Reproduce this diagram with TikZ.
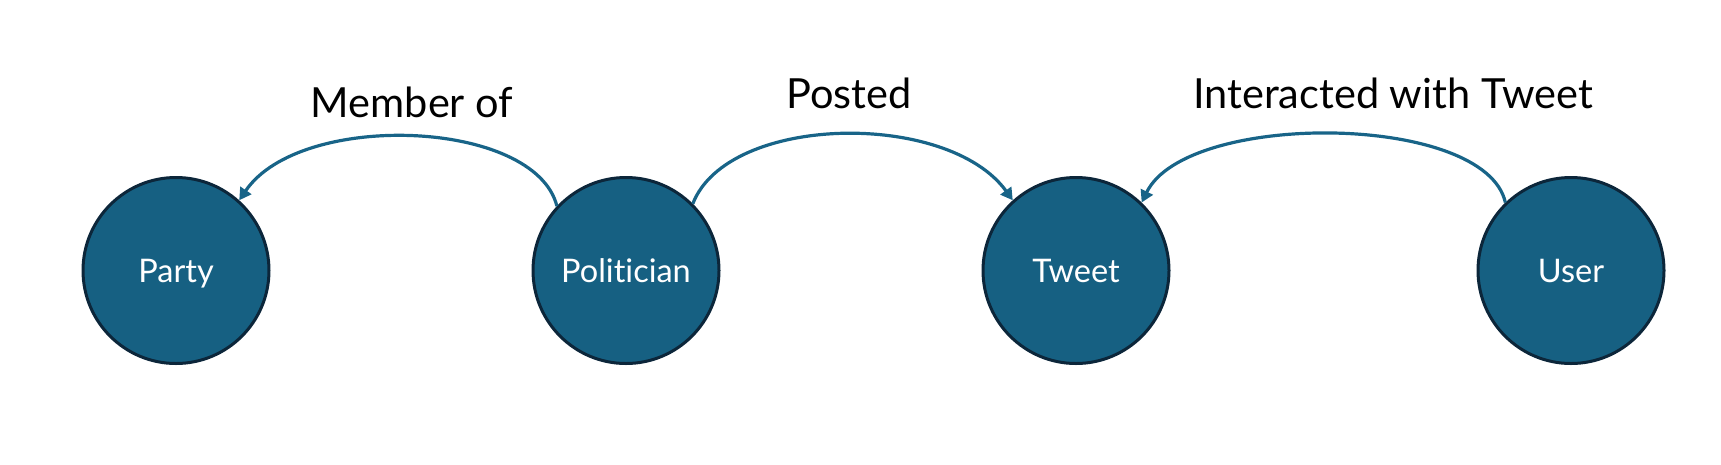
\documentclass[tikz,border=0pt]{standalone}
\usepackage{fontspec}
\setmainfont[Ligatures=NoCommon]{Lato}
\usetikzlibrary{arrows.meta}
\definecolor{nodefill}{RGB}{22,96,130}
\definecolor{nodeline}{RGB}{12,38,58}
\definecolor{edgecol}{RGB}{24,100,136}
\tikzset{
  entity/.style={circle, fill=nodefill, draw=nodeline, line width=3pt,
    minimum size=186pt, inner sep=0pt, text=white,
    font=\fontsize{32.5}{36}\selectfont, text height=23pt, text depth=0pt},
  rel/.style={draw=edgecol, line width=3.2pt,
    -{Triangle[length=12pt,width=13pt]}},
  rellabel/.style={anchor=base, font=\fontsize{41.5}{46}\selectfont, text=black, inner sep=0pt}
}
\begin{document}
\begin{tikzpicture}[x=1pt,y=-1pt]
\useasboundingbox (0,0) rectangle (1721,464);
\node[entity] (party) at (176,270.5) {Party};
\node[entity] (pol) at (626,270.5) {Politician};
\node[entity] (tweet) at (1076,270.5) {Tweet};
\node[entity] (user) at (1571,270.5) {User};

\draw[rel] (pol.137) .. controls +(-22,-87) and +(61,-90) .. (party.48);
\draw[rel] (pol.45) .. controls +(35,-90) and +(-65,-90) .. (tweet.132);
\draw[rel] (user.134) .. controls +(-20,-90) and +(45,-92) .. (tweet.46);

\node[rellabel] (lmember) at (412,117) {Member of};
\node[rellabel] (lposted) at (849,108) {Posted};
\node[rellabel] (linter) at (1393,108) {Interacted with Tweet};
\end{tikzpicture}
\end{document}
